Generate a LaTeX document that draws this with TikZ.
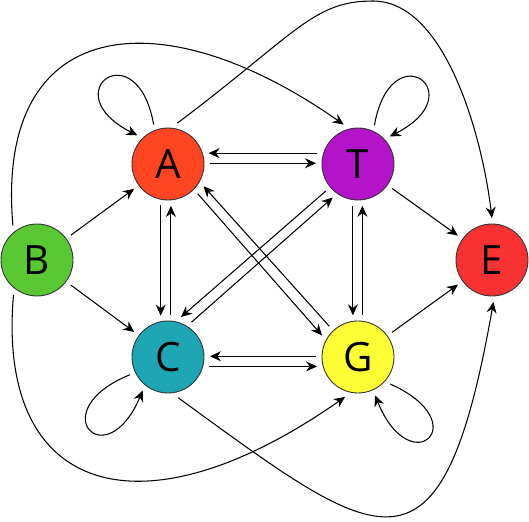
\documentclass[tikz,border=0pt]{standalone}
\usepackage{fontspec}
\setmainfont{Open Sans}
\usetikzlibrary{arrows.meta}
\definecolor{rim}{HTML}{333333}
\definecolor{cA}{HTML}{FF4522}
\definecolor{cT}{HTML}{B313C9}
\definecolor{cB}{HTML}{5AC833}
\definecolor{cC}{HTML}{1FA6B5}
\definecolor{cG}{HTML}{FFFF35}
\definecolor{cE}{HTML}{F83232}
\tikzset{
  ball/.style={circle, fill=#1, draw=rim, line width=0.5pt, minimum size=1.44cm, inner sep=0pt, outer sep=0.12cm, font=\fontsize{23}{23}\selectfont},
  arr/.style={-{Stealth[length=2.2mm,width=2mm]}, line width=0.6pt},
}
\begin{document}
\begin{tikzpicture}
  \useasboundingbox (0,0) rectangle (10.58,10.44);
  % states
  \node[ball=cA] (A) at (3.36,7.16) {A};
  \node[ball=cT] (T) at (7.16,7.16) {T};
  \node[ball=cB] (B) at (0.74,5.24) {B};
  \node[ball=cC] (C) at (3.36,3.30) {C};
  \node[ball=cG] (G) at (7.16,3.30) {G};
  \node[ball=cE] (E) at (9.84,5.24) {E};
  \coordinate (top) at (7.46,10.42);
  % self loops
  \draw[arr] (A.110) to[out=100,in=153,distance=1.9cm] (A.137);
  \draw[arr] (T.67) to[out=80,in=27,distance=1.9cm] (T.41);
  \draw[arr] (C.205) to[out=202,in=247,distance=1.9cm] (C.233);
  \draw[arr] (G.320) to[out=336,in=292,distance=1.9cm] (G.294);
  % from B
  \draw[arr] (B) -- (A);
  \draw[arr] (B) -- (C);
  \draw[arr] (B.125) .. controls +(95:4.2) and +(145:4.5) .. (T.110);
  \draw[arr] (B.236) .. controls +(265:4) and +(215:5) .. (G.252);
  % pairs
  \draw[arr] (T.165) -- (A.15);
  \draw[arr] (A.1) -- (T.179);
  \draw[arr] (G.179) -- (C.1);
  \draw[arr] (C.-13) -- (G.193);
  \draw[arr] (A.260) -- (C.100);
  \draw[arr] (C.86) -- (A.274);
  \draw[arr] (T.263) -- (G.97);
  \draw[arr] (G.84) -- (T.276);
  \draw[arr] (A.-45) -- (G.149);
  \draw[arr] (G.133) -- (A.-32);
  \draw[arr] (T.220) -- (C.72);
  \draw[arr] (C.56) -- (T.233);
  % into E
  \draw[arr] (T) -- (E);
  \draw[arr] (G) -- (E);
  \draw[arr] (A.77) to[out=37,in=180,out distance=3cm,in distance=1.2cm] (top)
    to[out=0,in=97,out distance=1.4cm,in distance=1.8cm] (E.90);
  \draw[arr] (C.284) .. controls +(-36:5) and +(260:6) .. (E.272);
\end{tikzpicture}
\end{document}
